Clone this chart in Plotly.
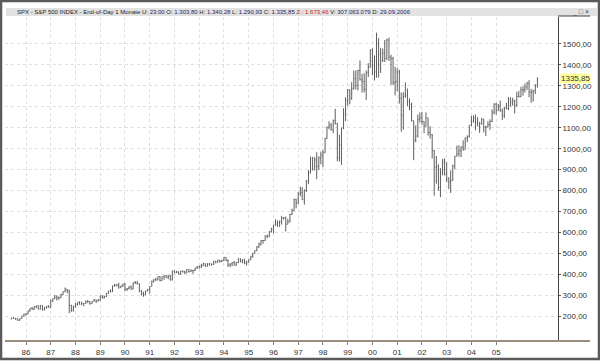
import plotly.graph_objects as go
import pandas as pd

# Monthly bars, Jun 1985 .. Sep 2006 (S&P 500, end-of-day 1 month)
months = pd.date_range("1985-06-01", "2006-09-01", freq="MS")

open_ = [
    190, 192, 191, 189, 182, 190, 202,
    211, 212, 227, 239, 236, 247, 251, 236, 253, 231, 244, 249,
    242, 274, 284, 292, 288, 290, 304, 319, 330, 322, 252, 230,
    247, 257, 268, 259, 261, 262, 274, 272, 262, 272, 279, 274,
    278, 297, 289, 295, 310, 321, 318, 346, 351, 349, 340, 346,
    353, 329, 332, 340, 331, 361, 358, 356, 323, 306, 304, 322,
    330, 344, 367, 375, 375, 390, 371, 388, 395, 388, 392, 375,
    417, 409, 413, 404, 415, 415, 408, 424, 414, 418, 419, 431,
    436, 439, 443, 452, 440, 450, 451, 448, 464, 459, 468, 462,
    466, 482, 467, 446, 451, 457, 444, 458, 475, 463, 472, 454,
    459, 470, 487, 501, 515, 533, 545, 562, 562, 584, 582, 605,
    616, 636, 640, 646, 654, 669, 671, 640, 652, 687, 705, 757,
    741, 786, 791, 757, 801, 848, 885, 954, 899, 947, 915, 955,
    970, 980, 1049, 1102, 1112, 1091, 1134, 1121, 957, 1017, 1099, 1164,
    1229, 1280, 1238, 1286, 1335, 1302, 1373, 1329, 1320, 1283, 1363, 1389,
    1469, 1394, 1366, 1499, 1452, 1421, 1455, 1431, 1518, 1437, 1429, 1315,
    1320, 1366, 1240, 1160, 1249, 1256, 1224, 1211, 1134, 1041, 1060, 1139,
    1148, 1130, 1107, 1147, 1077, 1067, 990, 912, 916, 815, 886, 936,
    880, 856, 841, 848, 917, 964, 975, 990, 1008, 996, 1051, 1058,
    1112, 1131, 1145, 1126, 1107, 1121, 1141, 1102, 1104, 1115, 1130, 1174,
    1212, 1181, 1204, 1181, 1157, 1192, 1191, 1234, 1220, 1229, 1207, 1249,
    1248, 1280, 1281, 1295, 1311, 1270, 1270, 1277, 1303.80,
]
high = [
    192, 197, 193, 189, 191, 203, 213,
    214, 228, 240, 245, 248, 251, 253, 254, 254, 245, 250, 254,
    280, 286, 302, 301, 295, 308, 319, 338, 331, 328, 256, 252,
    265, 268, 272, 271, 264, 275, 277, 273, 272, 284, 280, 283,
    300, 300, 299, 311, 322, 329, 347, 355, 354, 361, 347, 357,
    360, 336, 345, 348, 362, 369, 370, 358, 327, 318, 323, 331,
    344, 371, 378, 384, 390, 392, 391, 396, 397, 397, 399, 418,
    421, 417, 414, 418, 420, 418, 425, 425, 425, 423, 432, 441,
    442, 450, 456, 452, 454, 455, 452, 464, 464, 470, 469, 471,
    483, 483, 472, 453, 459, 464, 460, 477, 477, 473, 475, 466,
    472, 489, 503, 515, 535, 552, 564, 565, 587, 590, 606, 623,
    637, 664, 657, 657, 680, 674, 676, 666, 690, 714, 762, 762,
    794, 818, 816, 806, 851, 898, 962, 961, 960, 983, 964, 986,
    993, 1051, 1106, 1131, 1122, 1139, 1190, 1123, 1066, 1100, 1193, 1245,
    1285, 1283, 1317, 1372, 1373, 1376, 1421, 1357, 1360, 1373, 1408, 1474,
    1479, 1445, 1553, 1527, 1481, 1478, 1518, 1525, 1530, 1448, 1438, 1390,
    1384, 1376, 1268, 1269, 1316, 1287, 1240, 1220, 1134, 1111, 1163, 1173,
    1176, 1131, 1173, 1147, 1107, 1070, 994, 965, 925, 907, 951, 954,
    935, 864, 896, 924, 966, 1015, 1016, 1011, 1040, 1053, 1064, 1112,
    1156, 1159, 1163, 1150, 1128, 1147, 1141, 1109, 1131, 1140, 1188, 1217,
    1218, 1213, 1229, 1192, 1199, 1219, 1246, 1245, 1243, 1234, 1271, 1276,
    1295, 1297, 1311, 1319, 1327, 1285, 1281, 1307, 1340.28,
]
low = [
    186, 189, 184, 179, 180, 189, 200,
    203, 211, 223, 232, 231, 239, 233, 233, 228, 229, 236, 242,
    242, 269, 283, 276, 279, 287, 301, 316, 311, 216, 222, 223,
    242, 251, 256, 255, 249, 261, 263, 256, 261, 271, 264, 272,
    275, 286, 286, 293, 308, 315, 317, 341, 343, 332, 335, 341,
    320, 322, 330, 327, 329, 356, 353, 316, 300, 294, 302, 320,
    309, 343, 362, 369, 372, 368, 370, 375, 383, 378, 371, 372,
    405, 407, 400, 398, 409, 402, 407, 410, 413, 404, 417, 427,
    428, 431, 440, 437, 437, 442, 442, 446, 453, 457, 457, 460,
    464, 464, 436, 435, 440, 443, 442, 454, 458, 454, 449, 443,
    457, 469, 480, 500, 511, 526, 538, 547, 560, 572, 579, 601,
    597, 633, 627, 627, 638, 662, 605, 639, 648, 684, 704, 716,
    737, 773, 756, 733, 793, 831, 882, 897, 899, 855, 899, 925,
    913, 980, 1047, 1092, 1086, 1074, 1115, 940, 939, 923, 1093, 1132,
    1205, 1212, 1234, 1282, 1282, 1278, 1325, 1268, 1268, 1233, 1342, 1387,
    1350, 1325, 1339, 1339, 1361, 1413, 1413, 1423, 1419, 1305, 1303, 1254,
    1274, 1215, 1081, 1091, 1243, 1203, 1183, 1129, 945, 1031, 1054, 1124,
    1114, 1074, 1107, 1063, 1048, 953, 776, 833, 800, 769, 873, 872,
    840, 807, 789, 847, 902, 963, 962, 960, 990, 996, 1031, 1053,
    1108, 1124, 1088, 1108, 1076, 1114, 1078, 1060, 1102, 1090, 1127, 1163,
    1163, 1181, 1176, 1137, 1146, 1188, 1184, 1201, 1205, 1168, 1201, 1245,
    1246, 1253, 1268, 1280, 1245, 1219, 1225, 1261, 1290.93,
]
close = [
    192, 191, 189, 182, 190, 202, 211,
    212, 227, 239, 236, 247, 251, 236, 253, 231, 244, 249, 242,
    274, 284, 292, 288, 290, 304, 319, 330, 322, 252, 230, 247,
    257, 268, 259, 261, 262, 274, 272, 262, 272, 279, 274, 278,
    297, 289, 295, 310, 321, 318, 346, 351, 349, 340, 346, 353,
    329, 332, 340, 331, 361, 358, 356, 323, 306, 304, 322, 330,
    344, 367, 375, 375, 390, 371, 388, 395, 388, 392, 375, 417,
    409, 413, 404, 415, 415, 408, 424, 414, 418, 419, 431, 436,
    439, 443, 452, 440, 450, 451, 448, 464, 459, 468, 462, 466,
    482, 467, 446, 451, 457, 444, 458, 475, 463, 472, 454, 459,
    470, 487, 501, 515, 533, 545, 562, 562, 584, 582, 605, 616,
    636, 640, 646, 654, 669, 671, 640, 652, 687, 705, 757, 741,
    786, 791, 757, 801, 848, 885, 954, 899, 947, 915, 955, 970,
    980, 1049, 1102, 1112, 1091, 1134, 1121, 957, 1017, 1099, 1164, 1229,
    1280, 1238, 1286, 1335, 1302, 1373, 1329, 1320, 1283, 1363, 1389, 1469,
    1394, 1366, 1499, 1452, 1421, 1455, 1431, 1518, 1437, 1429, 1315, 1320,
    1366, 1240, 1160, 1249, 1256, 1224, 1211, 1134, 1041, 1060, 1139, 1148,
    1130, 1107, 1147, 1077, 1067, 990, 912, 916, 815, 886, 936, 880,
    856, 841, 848, 917, 964, 975, 990, 1008, 996, 1051, 1058, 1112,
    1131, 1145, 1126, 1107, 1121, 1141, 1102, 1104, 1115, 1130, 1174, 1212,
    1181, 1204, 1181, 1157, 1192, 1191, 1234, 1220, 1229, 1207, 1249, 1248,
    1280, 1281, 1295, 1311, 1270, 1270, 1277, 1304, 1335.85,
]

year_ticks = [f"{y}-01-01" for y in range(1986, 2006)]
year_labels = [f"{y % 100:02d}" for y in range(1986, 2006)]
price_ticks = list(range(200, 1501, 100))
price_labels = [f"{v},00" for v in price_ticks]
last_label = "1335,85"
last_value = 1335.85

assert len(months) == len(open_) == len(high) == len(low) == len(close)

BAR = "#5e5e5e"
fig = go.Figure(go.Ohlc(
    x=months, open=open_, high=high, low=low, close=close,
    increasing=dict(line=dict(color=BAR, width=1)),
    decreasing=dict(line=dict(color=BAR, width=1)),
    tickwidth=0.35, hoverinfo="skip",
))

W, H = 600, 362
L, R, T, B = 5, 42, 17, 19
pw, ph = W - L - R, H - T - B


def px(x):
    return (x - L) / pw


def py(y):
    return (H - B - y) / ph


grid = dict(showgrid=True, gridcolor="#dedede", griddash="dot", gridwidth=1)

fig.update_layout(
    width=W, height=H,
    margin=dict(l=L, r=R, t=T, b=B, pad=0),
    paper_bgcolor="white", plot_bgcolor="white",
    showlegend=False,
    font=dict(family="Liberation Sans, Arial, sans-serif", size=8, color="#333333"),
    xaxis=dict(
        type="date", range=["1985-02-25", "2007-07-02"],
        rangeslider=dict(visible=False),
        tickvals=year_ticks, ticktext=year_labels,
        ticks="outside", ticklen=3, tickcolor="#8a7a6a", tickwidth=1,
        showline=False, zeroline=False,
        tickfont=dict(size=8, color="#333333"),
        **grid,
    ),
    yaxis=dict(
        side="right", range=[83, 1628],
        tickvals=price_ticks, ticktext=price_labels,
        ticks="outside", ticklen=2, tickcolor="#555555",
        showline=True, linecolor="#444444", linewidth=1,
        zeroline=False,
        tickfont=dict(size=8, color="#333333"),
        **grid,
    ),
)

shapes = [
    # title bar
    dict(type="rect", xref="paper", yref="paper",
         x0=px(6), x1=px(597), y0=py(16), y1=py(8),
         fillcolor="#e2e2e2", line=dict(width=0), layer="below"),
    # short top border of price scale
    dict(type="line", xref="paper", yref="paper",
         x0=1, x1=px(590), y0=py(16), y1=py(16),
         line=dict(color="#444444", width=1)),
    # time axis baseline
    dict(type="line", xref="paper", yref="paper",
         x0=px(5), x1=px(590), y0=0, y1=0,
         line=dict(color="#9a8c7e", width=2)),
    # outer frame
    dict(type="rect", xref="paper", yref="paper",
         x0=px(1), x1=px(599), y0=py(361), y1=py(1),
         line=dict(color="#5a5a5a", width=2.5)),
]
fig.update_layout(shapes=shapes)

V = "#22226e"
title = (
    "SPX - S&P 500 INDEX - End-of-Day 1 Monate U: "
    f"<span style='color:{V}'>23:00</span> O: <span style='color:{V}'>1.303,80</span>"
    f" H: <span style='color:{V}'>1.340,28</span> L: <span style='color:{V}'>1.290,93</span>"
    f" C: <span style='color:{V}'>1.335,85</span> <span style='color:#d02020'>Z : 1.673,46</span>"
    f" V: <span style='color:{V}'>307.063.079</span> D: <span style='color:{V}'>29.09.2006</span>"
)
fig.add_annotation(xref="paper", yref="paper", x=px(15), y=py(12),
                   xanchor="left", yanchor="middle", showarrow=False,
                   text=title, font=dict(size=6, color="#222222"))
fig.add_annotation(xref="paper", yref="paper", x=px(591), y=py(12),
                   xanchor="right", yanchor="middle", showarrow=False,
                   text="_ □ ×", font=dict(size=7, color="#444444"))
fig.add_annotation(xref="paper", yref="y", x=px(559.5), y=last_value,
                   xanchor="left", yanchor="middle", showarrow=False,
                   text=last_label, bgcolor="#ffff99", borderpad=0,
                   font=dict(size=8, color="#333333"))

fig.write_html(
    "out.html",
    config={"displayModeBar": False},
    post_script="document.body.style.margin='0';document.body.style.overflow='hidden';",
)
